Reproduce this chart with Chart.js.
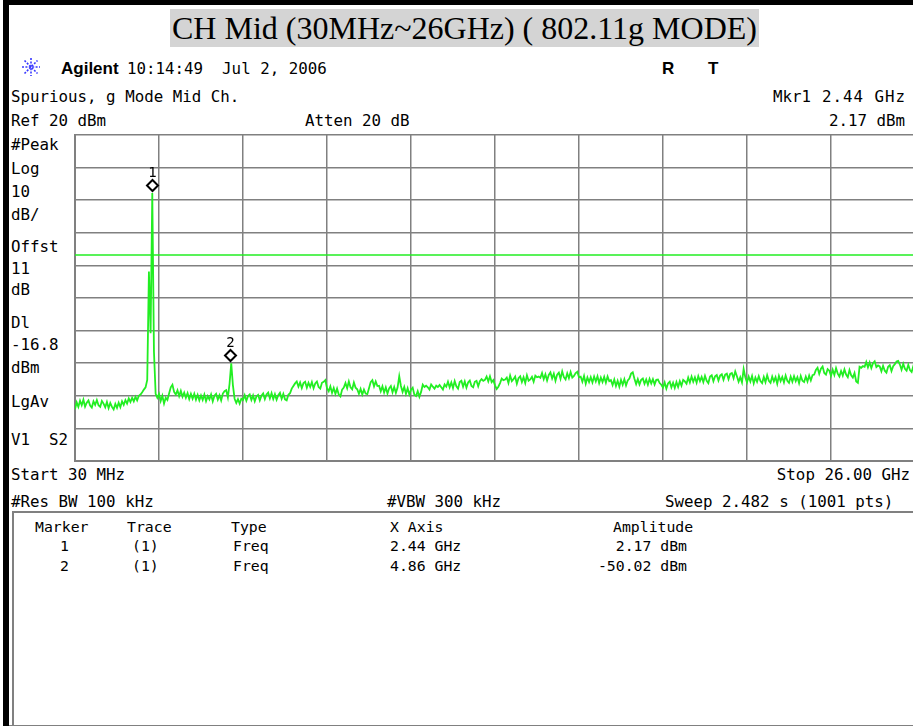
<!DOCTYPE html>
<html>
<head>
<meta charset="utf-8">
<title>Spurious, g Mode Mid Ch.</title>
<script src="https://cdn.jsdelivr.net/npm/chart.js@4.4.1/dist/chart.umd.min.js"></script>
<style>
  html, body { margin: 0; padding: 0; background: #fff; overflow: hidden; }
  body { width: 913px; height: 726px; position: relative; }
  .t { position: absolute; font-family: "DejaVu Sans Mono", monospace; font-size: 15.8px; line-height: 16px; white-space: pre; color: #000; }
  .s { position: absolute; font-family: "DejaVu Sans Mono", monospace; font-size: 14.8px; line-height: 15px; white-space: pre; color: #000; }
  .b { position: absolute; font-family: "Liberation Sans", Arial, sans-serif; font-weight: bold; font-size: 17px; line-height: 17px; white-space: pre; }
  .rule { position: absolute; background: #808080; }
  #title { position: absolute; left: 170px; top: 9px; height: 38px; padding: 0 2px; background: #d4d4d4;
           font-family: "Liberation Serif", "Times New Roman", serif; font-size: 32px; line-height: 38px; white-space: pre; }
  #scope { position: absolute; left: 73px; top: 133px; }
</style>
</head>
<body>
<div style="position:absolute;left:3px;top:0;width:910px;height:5px;background:#000"></div>
<div style="position:absolute;left:3px;top:0;width:6px;height:726px;background:#000"></div>
<div class="rule" style="left:9px;top:725px;width:904px;height:1px"></div>

<div id="title">CH Mid (30MHz~26GHz) ( 802.11g MODE)</div>

<svg style="position:absolute;left:21px;top:57px" width="20" height="20" viewBox="-10 -10 20 20">
  <g stroke="#3838ff" stroke-width="1.6" stroke-dasharray="2 1.4">
    <line x1="0" y1="-9" x2="0" y2="9"/>
    <line x1="-9" y1="0" x2="9" y2="0"/>
    <line x1="-6.5" y1="-6.5" x2="6.5" y2="6.5"/>
    <line x1="-6.5" y1="6.5" x2="6.5" y2="-6.5"/>
  </g>
</svg>
<div class="b" style="left:61px;top:60px">Agilent</div>
<div class="t" style="left:127px;top:60.5px">10:14:49  Jul 2, 2006</div>
<div class="b" style="left:662px;top:60px">R</div>
<div class="b" style="left:708px;top:60px">T</div>

<div class="t" style="left:11px;top:88.5px">Spurious, g Mode Mid Ch.</div>
<div class="t" style="left:773px;top:88.5px">Mkr1</div>
<div class="t" id="mkrHead" style="left:822px;top:88.5px;letter-spacing:1px"></div>
<div class="t" style="left:11px;top:112.5px">Ref 20 dBm</div>
<div class="t" style="left:305px;top:112.5px">Atten 20 dB</div>
<div class="t" id="mkrAmp" style="right:8px;top:112.5px"></div>

<div class="t" style="left:11px;top:136.5px">#Peak</div>
<div class="t" style="left:11px;top:160.5px">Log</div>
<div class="t" style="left:11px;top:183.5px">10</div>
<div class="t" style="left:11px;top:206.5px">dB/</div>
<div class="t" style="left:11px;top:238.5px">Offst</div>
<div class="t" style="left:11px;top:260.5px">11</div>
<div class="t" style="left:11px;top:281.5px">dB</div>
<div class="t" style="left:11px;top:314.5px">Dl</div>
<div class="t" id="dlText" style="left:11px;top:336.5px"></div>
<div class="t" style="left:11px;top:359.5px">dBm</div>
<div class="t" style="left:11px;top:393.5px">LgAv</div>
<div class="t" style="left:11px;top:431.5px">V1  S2</div>

<div class="t" style="left:11px;top:466.5px">Start 30 MHz</div>
<div class="t" style="right:3px;top:466.5px">Stop 26.00 GHz</div>
<div class="t" style="left:11px;top:493.5px">#Res BW 100 kHz</div>
<div class="t" style="left:387px;top:493.5px">#VBW 300 kHz</div>
<div class="t" style="left:665px;top:493.5px">Sweep 2.482 s (1001 pts)</div>

<div class="rule" style="left:12px;top:511px;width:901px;height:2px"></div>
<div class="rule" style="left:12px;top:511px;width:2px;height:214px"></div>
<div id="table"></div>

<canvas id="scope" width="844" height="330"></canvas>

<script>
// sweep settings
const START_GHZ = 0.03;
const STOP_GHZ = 26.0;
const REF_DBM = 20;
const DB_PER_DIV = 10;
const DISPLAY_LINE = -16.8;

// marker readout
const markerNo = [1, 2];
const markerFreq = [2.44, 4.86];
const markerAmp = [2.17, -50.02];

// trace 1, log average, dBm (501 points across the span)
const trace = [
  -64.1,-62.0,-63.4,-61.5,-62.9,-61.2,-63.3,-62.1,-61.4,-63.0,-63.6,-61.7,-62.8,-61.3,-62.9,-63.4,-61.6,-62.4,-63.5,-61.9,
  -63.8,-62.2,-63.4,-64.2,-62.5,-63.7,-62.1,-63.5,-61.7,-62.8,-61.3,-62.4,-60.8,-61.9,-60.6,-61.7,-60.3,-61.4,-60.0,
  -59.6,-58.9,-58.1,-57.4,-55.1,-21.9,-40.8,2.17,-46.5,-59.4,-60.6,
  -59.4,-61.6,-60.0,-62.4,-60.6,-61.3,-59.3,-57.4,-56.6,-58.8,
  -59.6,-58.3,-60.1,-58.5,-60.3,-59.0,-60.6,-59.2,-61.0,-59.4,
  -60.9,-59.4,-61.2,-59.7,-61.4,-59.9,-61.3,-59.6,-61.6,-60.1,
  -61.1,-59.6,-61.7,-60.0,-59.4,-61.2,-59.8,-61.4,-59.3,-58.6,-58.3,-60.5,
  -56.3,-50.02,-56.8,-60.9,-62.2,-61.0,-62.4,-60.9,
  -61.3,-59.8,-61.5,-60.1,-59.6,-61.3,-59.9,-61.7,-60.2,-59.7,-61.4,-60.0,-59.3,-61.0,-59.6,
  -59.0,-60.8,-59.2,-61.0,-59.5,-61.2,-59.8,-59.1,-60.9,-59.4,-61.1,-61.4,-59.7,
  -59.2,-57.8,-57.0,-56.2,
  -55.6,-57.2,-55.9,-57.6,-56.1,-55.7,-57.5,-56.0,-57.3,-55.8,-57.7,-56.2,-55.6,-57.3,-57.8,-56.0,-55.7,
  -55.2,
  -57.7,-58.6,-57.1,-59.1,-57.6,-59.4,-57.8,-59.6,-60.2,-58.1,-57.5,
  -56.1,-57.7,-55.6,-57.4,-58.0,-55.9,-57.5,
  -58.0,-59.4,-57.9,-59.6,-58.1,-59.3,-59.5,-57.7,
  -55.8,-55.2,-57.1,-55.6,-57.0,
  -56.9,-58.6,-57.1,-59.0,-57.4,-59.3,-57.7,-57.0,-58.9,-57.3,-59.1,-57.5,
  -54.0,
  -57.0,-58.8,-57.3,-59.4,-57.7,-59.6,-58.1,-57.5,-59.7,-60.1,-58.6,-60.3,-58.8,
  -56.6,-57.3,-56.9,-57.4,-58.1,-56.5,-57.2,-57.8,-56.9,-57.3,-56.7,-57.4,-58.1,-56.5,-57.2,
  -55.7,-57.4,-55.9,-57.6,-55.5,-57.1,-57.8,-55.8,-55.4,-57.2,-55.6,-57.5,-55.9,-55.3,-57.0,-57.4,-55.7,-55.4,-57.1,-55.5,
  -54.9,-55.4,-55.1,-54.1,-55.6,-54.0,-55.8,-55.2,
  -56.8,-57.9,-57.2,-56.1,
  -54.7,-55.2,-55.0,-54.4,-56.1,-53.8,-55.5,-54.9,-54.1,-56.3,-54.6,-54.0,-55.8,-54.3,-56.1,-53.7,-55.4,-55.0,-54.2,-55.7,
  -53.8,-54.3,-54.1,-54.5,-53.0,-54.9,-53.4,-55.3,-53.6,-52.8,-54.7,-53.2,-55.4,-53.5,-52.9,-54.8,-52.5,-54.3,-55.0,-53.1,
  -54.6,-52.7,-54.4,-53.9,-53.0,-52.6,-54.3,
  -54.1,-55.7,-53.9,-56.3,-54.4,-55.8,
  -54.3,-55.9,-54.1,-55.6,-54.0,-56.1,-54.4,-55.8,-54.2,-56.0,-54.1,-55.5,
  -55.2,-56.7,-55.0,-57.0,-55.4,-57.2,-55.1,-56.6,-54.9,-56.8,-55.3,-54.7,
  -53.2,-52.8,
  -54.8,-56.4,-54.9,-56.5,-55.1,-54.7,-56.3,-55.0,-56.6,-54.8,-56.2,-54.9,-56.5,-55.1,-55.0,
  -56.1,-56.6,-57.5,-55.9,-57.8,-56.2,-55.7,-57.4,-56.0,-57.6,-55.8,-57.3,-55.5,-56.9,
  -55.1,-55.6,-56.3,-54.4,-55.9,-54.1,-55.7,-54.3,-56.0,-54.0,-55.5,-54.2,-55.8,-53.9,-55.4,-56.1,
  -54.1,-53.7,-55.5,-54.0,-53.6,-55.3,-53.8,-53.4,-55.1,-53.5,-53.2,-54.9,-53.3,-53.0,-54.6,-52.5,
  -54.0,-55.7,-54.3,-55.9,
  -51.8,
  -54.3,-55.9,-54.1,-55.6,-53.9,-56.2,-54.4,-55.7,-54.0,-55.5,-56.1,-54.2,-55.8,-53.7,-55.4,-56.0,-54.1,-55.6,-54.3,-56.3,
  -53.9,-55.5,-54.2,-55.9,-53.8,-55.4,-56.0,-54.1,-55.7,-54.0,-55.5,-54.3,-56.1,-53.9,-55.4,-55.8,-54.1,-55.6,-53.8,-55.3,
  -53.7,-53.5,
  -52.1,-51.4,-53.3,-51.7,-51.0,-53.0,-53.5,-51.8,
  -52.3,-53.9,-52.0,-53.6,-51.5,-53.2,-54.1,-52.4,-53.8,-51.9,-53.5,-54.3,-52.1,-53.7,-54.4,-53.0,
  -55.6,-56.0,
  -51.1,-51.4,-50.9,-51.1,-49.6,-51.3,-49.8,-51.5,-50.0,-49.4,-51.2,-50.7,
  -51.0,-52.5,-50.8,-52.3,-52.9,-51.1,-50.6,-52.4,-50.9,-50.3,
  -49.5,-49.3,
  -50.4,-52.0,-50.2,-51.7,-52.3,-50.5,-52.1,-52.7,-50.9,-52.5
];

document.addEventListener("DOMContentLoaded", () => {
  // readout text comes from the marker arrays
  document.getElementById("mkrHead").textContent = markerFreq[0].toFixed(2) + " GHz";
  document.getElementById("mkrAmp").textContent = markerAmp[0].toFixed(2) + " dBm";
  document.getElementById("dlText").textContent = DISPLAY_LINE.toFixed(1);

  let rows = '<div class="s" style="left:35px;top:519.4px">Marker</div>'
    + '<div class="s" style="left:127px;top:519.4px">Trace</div>'
    + '<div class="s" style="left:231px;top:519.4px">Type</div>'
    + '<div class="s" style="left:390px;top:519.4px">X Axis</div>'
    + '<div class="s" style="left:613px;top:519.4px">Amplitude</div>';
  markerNo.forEach((n, i) => {
    const top = 538.4 + i * 20;
    rows += '<div class="s" style="left:60px;top:' + top + 'px">' + n + '</div>'
      + '<div class="s" style="left:132px;top:' + top + 'px">(1)</div>'
      + '<div class="s" style="left:233px;top:' + top + 'px">Freq</div>'
      + '<div class="s" style="left:390px;top:' + top + 'px">' + markerFreq[i].toFixed(2) + ' GHz</div>'
      + '<div class="s" style="right:226px;top:' + top + 'px">' + markerAmp[i].toFixed(2) + ' dBm</div>';
  });
  document.getElementById("table").innerHTML = rows;

  const step = (STOP_GHZ - START_GHZ) / (trace.length - 1);
  const tracePts = trace.map((v, i) => ({ x: START_GHZ + i * step, y: v }));

  // diamonds with the marker number, sitting just above the marked point
  const markerPlugin = {
    id: "markers",
    afterDatasetsDraw(chart) {
      const { ctx, scales: { x, y } } = chart;
      ctx.save();
      markerFreq.forEach((f, i) => {
        const px = Math.round(x.getPixelForValue(f)) - 0.5;
        const py = Math.round(y.getPixelForValue(markerAmp[i])) - 7.5;
        const h = 5.5;
        ctx.beginPath();
        ctx.moveTo(px, py - h);
        ctx.lineTo(px + h, py);
        ctx.lineTo(px, py + h);
        ctx.lineTo(px - h, py);
        ctx.closePath();
        ctx.fillStyle = "#fff";
        ctx.fill();
        ctx.lineWidth = 2;
        ctx.strokeStyle = "#000";
        ctx.stroke();
        ctx.fillStyle = "#000";
        ctx.font = "14px 'DejaVu Sans Mono'";
        ctx.textAlign = "center";
        ctx.fillText(String(markerNo[i]), px, py - 9);
      });
      ctx.restore();
    }
  };

  new Chart(document.getElementById("scope"), {
    type: "line",
    data: {
      datasets: [
        {
          label: "Dl",
          data: [{ x: START_GHZ, y: DISPLAY_LINE }, { x: STOP_GHZ, y: DISPLAY_LINE }],
          borderColor: "#22ee22",
          borderWidth: 1.5,
          pointRadius: 0
        },
        {
          label: "Trace 1",
          data: tracePts,
          borderColor: "#22ee22",
          borderWidth: 1.8,
          pointRadius: 0,
          tension: 0
        }
      ]
    },
    options: {
      responsive: false,
      animation: false,
      layout: { padding: 2 },
      plugins: { legend: { display: false }, tooltip: { enabled: false } },
      scales: {
        x: {
          type: "linear",
          min: START_GHZ,
          max: STOP_GHZ,
          afterBuildTicks(scale) {
            const div = (STOP_GHZ - START_GHZ) / 10;
            scale.ticks = Array.from({ length: 11 }, (_, k) => ({ value: START_GHZ + k * div }));
          },
          ticks: { display: false },
          grid: { color: "#808080", lineWidth: 1.5, drawTicks: false },
          border: { color: "#808080", width: 2 }
        },
        y: {
          min: REF_DBM - 10 * DB_PER_DIV,
          max: REF_DBM,
          ticks: { display: false, stepSize: DB_PER_DIV },
          grid: { color: "#808080", lineWidth: 1.5, drawTicks: false },
          border: { color: "#808080", width: 2 }
        }
      }
    },
    plugins: [markerPlugin]
  });
});
</script>
</body>
</html>
